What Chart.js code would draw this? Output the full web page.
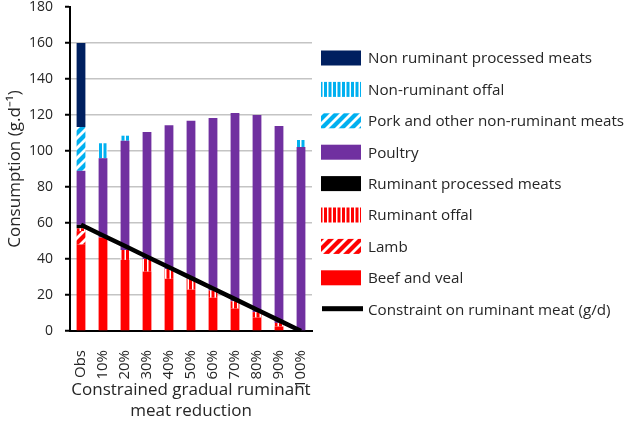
<!DOCTYPE html>
<html>
<head>
<meta charset="utf-8">
<script src="https://cdn.jsdelivr.net/npm/chart.js@4.4.1/dist/chart.umd.min.js"></script>
<style>
  body { margin: 0; background: #fff; }
  #wrap { width: 630px; height: 425px; }
</style>
</head>
<body>
<div id="wrap"><canvas id="meat-chart" width="630" height="425"></canvas></div>
<script>
// Data (g per day)
const categories = ['Obs', '10%', '20%', '30%', '40%', '50%', '60%', '70%', '80%', '90%', '100%'];
const beefVeal = [48, 52, 39.5, 33, 29, 23, 18.5, 12.5, 7.5, 2.5, 0];
const lamb = [7.5, 0, 0, 0, 0, 0, 0, 0, 0, 0, 0];
const ruminantOffal = [1.5, 0, 5.5, 7, 5.5, 6, 4, 4, 3, 2, 0];
const ruminantProcessed = [2, 0, 0, 0, 0, 0, 0, 0, 0, 0, 0];
const poultry = [30, 44, 60.7, 70.6, 79.8, 87.8, 95.8, 104.6, 109.5, 109.4, 102.2];
const porkOther = [24.3, 0, 0, 0, 0, 0, 0, 0, 0, 0, 0];
const nonRuminantOffal = [0, 8.3, 2.8, 0, 0, 0, 0, 0, 0, 0, 3.9];
const nonRuminantProcessed = [46.7, 0, 0, 0, 0, 0, 0, 0, 0, 0, 0];
const constraint = [59, 53.1, 47.2, 41.3, 35.4, 29.5, 23.6, 17.7, 11.8, 5.9, 0];
const yTicks = [0, 20, 40, 60, 80, 100, 120, 140, 160, 180];

const RED = '#ff0000';
const BLUE = '#00b0f0';
const PURPLE = '#7030a0';
const NAVY = '#002060';

Chart.defaults.font.family = "'Open Sans', sans-serif";
Chart.defaults.color = '#262626';

// striped fills like the excel pattern fills
function vStripes(color) {
    const c = document.createElement('canvas');
    c.width = 9; c.height = 4;
    const g = c.getContext('2d');
    g.fillStyle = '#fff';
    g.fillRect(0, 0, 9, 4);
    g.fillStyle = color;
    g.fillRect(0, 0, 3, 4);
    g.fillRect(4.5, 0, 3, 4);
    return g.createPattern(c, 'repeat');
}

function diagStripes(color) {
    const c = document.createElement('canvas');
    c.width = 10; c.height = 10;
    const g = c.getContext('2d');
    g.fillStyle = '#fff';
    g.fillRect(0, 0, 10, 10);
    g.strokeStyle = color;
    g.lineWidth = 4.2;
    for (let k = -1; k <= 1; k++) {
        g.beginPath();
        g.moveTo(k * 10 - 2, 12);
        g.lineTo(k * 10 + 12, -2);
        g.stroke();
    }
    return g.createPattern(c, 'repeat');
}

function barSet(label, data, fill) {
    return { label, data, backgroundColor: fill, stack: 'meat', barPercentage: 0.4, categoryPercentage: 1 };
}

// Legend drawn on the right, same order as the original
const sideLegend = {
    id: 'sideLegend',
    afterDraw(chart) {
        const ctx = chart.ctx;
        const items = chart.data.datasets.slice().reverse();
        ctx.save();
        ctx.font = "15.2px 'Open Sans', sans-serif";
        ctx.textBaseline = 'middle';
        items.forEach((ds, i) => {
            const y = 58 + i * 31.4;
            if (ds.type === 'line') {
                ctx.fillStyle = '#000';
                ctx.fillRect(322, y - 3, 41, 5);
            } else {
                ctx.fillStyle = ds.backgroundColor;
                ctx.fillRect(321, y - 7.5, 40, 15);
            }
            ctx.fillStyle = '#262626';
            ctx.fillText(ds.label, 368, y + 1);
        });
        ctx.restore();
    }
};

new Chart(document.getElementById('meat-chart'), {
    type: 'bar',
    data: {
        labels: categories,
        datasets: [
            {
                type: 'line',
                label: 'Constraint on ruminant meat (g/d)',
                data: constraint,
                borderColor: '#000',
                backgroundColor: '#000',
                borderWidth: 4.5,
                pointRadius: 0,
                stack: 'line',
                tension: 0
            },
            barSet('Beef and veal', beefVeal, RED),
            barSet('Lamb', lamb, diagStripes(RED)),
            barSet('Ruminant offal', ruminantOffal, vStripes(RED)),
            barSet('Ruminant processed meats', ruminantProcessed, '#000'),
            barSet('Poultry', poultry, PURPLE),
            barSet('Pork and other non-ruminant meats', porkOther, diagStripes(BLUE)),
            barSet('Non-ruminant offal', nonRuminantOffal, vStripes(BLUE)),
            barSet('Non ruminant processed meats', nonRuminantProcessed, NAVY)
        ]
    },
    options: {
        responsive: false,
        animation: false,
        layout: { padding: { top: 7, right: 318, left: 0, bottom: 0 } },
        plugins: {
            legend: { display: false },
            tooltip: { enabled: false }
        },
        scales: {
            x: {
                stacked: true,
                grid: { display: false },
                border: { color: '#000', width: 2 },
                ticks: {
                    minRotation: 90,
                    maxRotation: 90,
                    autoSkip: false,
                    padding: 11,
                    font: { size: 15 },
                    color: '#262626'
                },
                title: {
                    display: true,
                    text: ['Constrained gradual ruminant', 'meat reduction'],
                    font: { size: 17, lineHeight: 1.25 },
                    padding: { top: 0, bottom: 3 },
                    color: '#262626'
                },
                afterFit: (scale) => {
                    scale.height = 94;
                    scale.paddingLeft = 0;
                    scale.paddingRight = 0;
                }
            },
            y: {
                stacked: true,
                min: 0,
                max: 180,
                afterBuildTicks: (scale) => {
                    scale.ticks = yTicks.map(v => ({ value: v }));
                },
                grid: {
                    color: (c) => (c.tick && c.tick.value === 180) ? 'rgba(0,0,0,0)' : '#c4c4c4',
                    lineWidth: 1.5,
                    tickColor: '#000',
                    tickLength: 5,
                    tickWidth: 2
                },
                border: { color: '#000', width: 2 },
                ticks: {
                    padding: 12,
                    font: { size: 14 },
                    color: '#262626'
                },
                title: {
                    display: true,
                    text: 'Consumption (g.d\u207B\u00B9)',
                    font: { size: 17 },
                    padding: { top: 5, bottom: 0 },
                    color: '#262626'
                },
                afterFit: (scale) => {
                    scale.width = 70;
                    scale.paddingTop = 0;
                    scale.paddingBottom = 0;
                }
            }
        }
    },
    plugins: [sideLegend]
});
</script>
</body>
</html>
